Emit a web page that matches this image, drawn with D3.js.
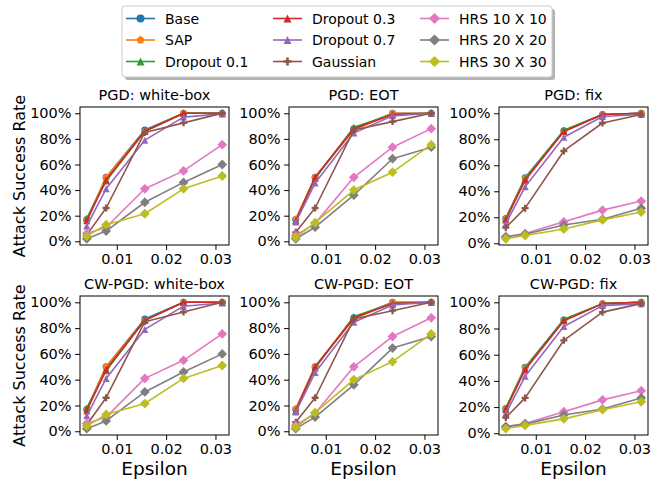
<!DOCTYPE html>
<html><head><meta charset="utf-8">
<script src="https://cdn.jsdelivr.net/npm/d3@7"></script>
<style>
html,body{margin:0;padding:0;background:#fff;}
svg{display:block;font-family:"DejaVu Sans",sans-serif;}
</style></head>
<body><svg id="c" width="663" height="480"></svg>
<script>
// ---------- data ----------
const epsilons = [1/255, 2/255, 4/255, 6/255, 8/255];
const seriesNames = ["Base","SAP","Dropout 0.1","Dropout 0.3","Dropout 0.7","Gaussian","HRS 10 X 10","HRS 20 X 20","HRS 30 X 30"];
const seriesColors = ["#1f77b4","#ff7f0e","#2ca02c","#d62728","#9467bd","#8c564b","#e377c2","#7f7f7f","#bcbd22"];
const seriesMarkers = ["circle","pentagon","triangle","triangle","triangle","plus","diamond","diamond","diamond"];
const panelTitles = ["PGD: white-box","PGD: EOT","PGD: fix","CW-PGD: white-box","CW-PGD: EOT","CW-PGD: fix"];
const yTicks = [0,20,40,60,80,100];
const xTicks = [0.01,0.02,0.03];

const pgdWhite = [
  [17,50,87,100,100],
  [17,50,86,100,100],
  [18,47,86,100,100],
  [16,48,86,100,100],
  [12,41,79,97,99.5],
  [5,26,85,92.5,100],
  [6,11,41,55,75.5],
  [2,8,30.5,46,60],
  [4,13,21.5,41,51]
];
const pgdEot = [
  [17,50,88,100,100],
  [17.5,50,87,100,100],
  [16,49,89,99,100],
  [16,50,88,99,100],
  [15,45.5,84.5,98,100],
  [7,26,87,93.5,100],
  [4.5,14,50,73.5,88],
  [2,11,36,64.5,73.5],
  [3,14.5,40,54,75.5]
];
const pgdFix = [
  [19,50.5,86.5,99,100],
  [19,50,86,99,100],
  [19,49.5,87,99,100],
  [18,48.5,86,99,100],
  [15,43.5,81.5,97.5,99],
  [12,27,71,92.5,99],
  [5,7.5,16.5,25.5,32.5],
  [5,7,14,18.5,27],
  [3.5,6,11,18,24]
];
const cwWhite = [
  [17,50,87,100,100],
  [17,50,86,100,100],
  [18,47,86,100,100],
  [16,48,86,100,100],
  [12,41,79,97,99.5],
  [5,26,85,92.5,100],
  [6,11,41,55,75.5],
  [2,8,30.5,46,60],
  [4,13,21.5,41,51]
];
const cwEot = [
  [17,50,88,100,100],
  [17.5,50,87,100,100],
  [16,49,89,99,100],
  [16,50,88,99,100],
  [15,45.5,84.5,98,100],
  [7,26,87,93.5,100],
  [4.5,14,50,73.5,88],
  [2,11,36,64.5,73.5],
  [3,14.5,40,54,75.5]
];
const cwFix = [
  [19,50.5,86.5,99,100],
  [19,50,86,99,100],
  [19,49.5,87,99,100],
  [18,48.5,86,99,100],
  [15,43.5,81.5,97.5,99],
  [12,27,71,92.5,99],
  [5,7.5,16.5,25.5,32.5],
  [5,7,14,18.5,27],
  [3.5,6,11,18,24]
];
const panelData = [pgdWhite, pgdEot, pgdFix, cwWhite, cwEot, cwFix];

// ---------- layout ----------
const svg = d3.select("#c");
const colLeft = [80, 289, 499];
const panelW = 149;
const rowTop = [107, 296];
const panelH = [138, 139];
const FS = 14.5;

function markerPath(type, s) {
  const p = d3.path();
  const r = s / 2;
  if (type === "circle") {
    p.arc(0, 0, r, 0, 2 * Math.PI);
  } else if (type === "pentagon") {
    for (let i = 0; i < 5; i++) {
      const a = -Math.PI / 2 + i * 2 * Math.PI / 5;
      const x = r * 1.05 * Math.cos(a), y = r * 1.05 * Math.sin(a);
      i ? p.lineTo(x, y) : p.moveTo(x, y);
    }
    p.closePath();
  } else if (type === "triangle") {
    p.moveTo(0, -r); p.lineTo(r, r); p.lineTo(-r, r); p.closePath();
  } else if (type === "diamond") {
    const d = s * 0.7;
    p.moveTo(0, -d); p.lineTo(d, 0); p.lineTo(0, d); p.lineTo(-d, 0); p.closePath();
  } else if (type === "plus") {
    const a = s / 6, b = s / 2;
    const pts = [[-a,-b],[a,-b],[a,-a],[b,-a],[b,a],[a,a],[a,b],[-a,b],[-a,a],[-b,a],[-b,-a],[-a,-a]];
    pts.forEach((q, i) => i ? p.lineTo(q[0], q[1]) : p.moveTo(q[0], q[1]));
    p.closePath();
  }
  return p.toString();
}
const MS = 7;

panelData.forEach((data, pi) => {
  const row = Math.floor(pi / 3), col = pi % 3;
  const x0 = colLeft[col], y0 = rowTop[row], h = panelH[row];
  const xMin = d3.min(epsilons), xMax = d3.max(epsilons);
  const xm = (xMax - xMin) * 0.05;
  const x = d3.scaleLinear().domain([xMin - xm, xMax + xm]).range([0, panelW]);
  const allY = data.flat();
  const yMin = d3.min(allY), yMax = d3.max(allY);
  const ym = (yMax - yMin) * 0.05;
  const y = d3.scaleLinear().domain([yMin - ym, yMax + ym]).range([h, 0]);

  const g = svg.append("g").attr("transform", `translate(${x0},${y0})`);

  const line = d3.line().x((d, i) => x(epsilons[i])).y(d => y(d));
  const plot = g.append("g");
  data.forEach((vals, si) => {
    plot.append("path").attr("d", line(vals))
      .attr("fill", "none").attr("stroke", seriesColors[si]).attr("stroke-width", 1.6)
      .attr("stroke-linejoin", "round");
    plot.selectAll(null).data(vals).enter().append("path")
      .attr("d", markerPath(seriesMarkers[si], MS))
      .attr("transform", (d, i) => `translate(${x(epsilons[i])},${y(d)})`)
      .attr("fill", seriesColors[si]);
  });

  // axes
  const xa = g.append("g").attr("transform", `translate(0,${h})`)
    .call(d3.axisBottom(x).tickValues(xTicks).tickFormat(d3.format(".2f")).tickSize(4.9).tickPadding(3.5));
  const ya = g.append("g")
    .call(d3.axisLeft(y).tickValues(yTicks).tickFormat(d => d + "%").tickSize(4.9).tickPadding(3.5));
  [xa, ya].forEach(a => {
    a.select(".domain").remove();
    a.selectAll("text").attr("font-size", FS).attr("font-family", "DejaVu Sans").attr("fill", "#000");
    a.selectAll("line").attr("stroke", "#000").attr("stroke-width", 1);
  });
  g.append("rect").attr("x", 0).attr("y", 0).attr("width", panelW).attr("height", h)
    .attr("fill", "none").attr("stroke", "#000").attr("stroke-width", 1);

  g.append("text").attr("x", panelW / 2).attr("y", -7).attr("text-anchor", "middle")
    .attr("font-size", FS).text(panelTitles[pi]);

  if (col === 0) {
    svg.append("text")
      .attr("transform", `translate(25,${y0 + h / 2}) rotate(-90)`)
      .attr("text-anchor", "middle").attr("font-size", 16).text("Attack Success Rate");
  }
  if (row === 1) {
    g.append("text").attr("x", panelW / 2).attr("y", h + 40).attr("text-anchor", "middle")
      .attr("font-size", 18.5).text("Epsilon");
  }
});

// ---------- legend ----------
const lg = svg.append("g");
const L = {x: 122, y: 6, w: 430, h: 71};
lg.append("rect").attr("x", L.x + 3).attr("y", L.y + 3).attr("width", L.w).attr("height", L.h)
  .attr("rx", 3).attr("fill", "#808080").attr("opacity", 0.6);
lg.append("rect").attr("x", L.x).attr("y", L.y).attr("width", L.w).attr("height", L.h)
  .attr("rx", 3).attr("fill", "#fff").attr("stroke", "#cccccc").attr("stroke-width", 1);
const colX = [126, 273, 420];
const rowY = [18.5, 40, 61.5];
seriesNames.forEach((name, si) => {
  const c = Math.floor(si / 3), r = si % 3;
  const lx = colX[c], ly = rowY[r];
  lg.append("line").attr("x1", lx).attr("x2", lx + 29).attr("y1", ly).attr("y2", ly)
    .attr("stroke", seriesColors[si]).attr("stroke-width", 1.6);
  lg.append("path").attr("d", markerPath(seriesMarkers[si], 8))
    .attr("transform", `translate(${lx + 14.5},${ly})`).attr("fill", seriesColors[si]);
  lg.append("text").attr("x", lx + 39).attr("y", ly + 5).attr("font-size", 14).text(name);
});
</script>
</body></html>
